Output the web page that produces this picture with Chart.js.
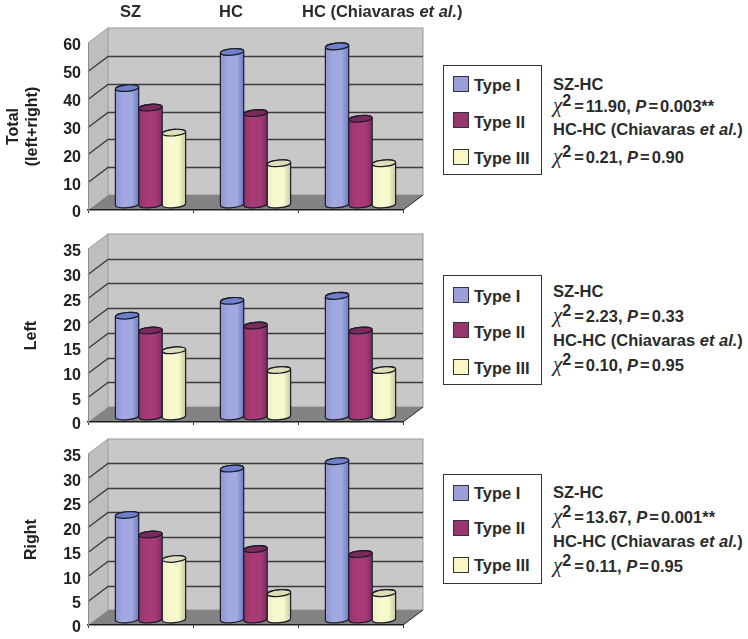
<!DOCTYPE html>
<html>
<head>
<meta charset="utf-8">
<script src="https://cdn.jsdelivr.net/npm/chart.js@4/dist/chart.umd.min.js"></script>
<style>
  html, body { margin: 0; padding: 0; background: #fff; }
  #page { position: relative; width: 748px; height: 639px; overflow: hidden;
          font-family: "Liberation Sans", Arial, sans-serif; font-weight: bold; color: #2b2b2b; }
  canvas { position: absolute; left: 0; }
  .txt { position: absolute; white-space: nowrap; line-height: 18px; height: 18px; }
  .header { font-size: 16.5px; }
  .stat { font-size: 16.5px; left: 553px; }
  .stat i.chi { font-family: "Liberation Serif", serif; font-size: 21px; font-weight: normal; }
  .stat sup { font-size: 16px; line-height: 0; vertical-align: 6px; margin-right: 1px; }
  .eq { margin: 0 2px; }
  .legend-box { position: absolute; left: 443px; width: 97px; border: 1px solid #333; background: #fff; box-sizing: content-box; }
  .swatch { position: absolute; left: 453px; width: 14px; height: 14px; border: 1.5px solid #333; }
  .legend-label { font-size: 16.5px; left: 474px; }
</style>
</head>
<body>
<div id="page"></div>
<script>
// categories and legend
const categories = ["SZ", "HC", "HC (Chiavaras et al.)"];
const typeNames = ["Type I", "Type II", "Type III"];

// values per panel
const totalTypeI = [42, 55, 57];
const totalTypeII = [35, 33, 31];
const totalTypeIII = [26, 15, 15];

const leftTypeI = [20.5, 23.5, 24.5];
const leftTypeII = [17.5, 18.5, 17.5];
const leftTypeIII = [13.5, 9.5, 9.5];

const rightTypeI = [21.5, 31, 32.5];
const rightTypeII = [17.5, 14.5, 13.5];
const rightTypeIII = [12.5, 5.5, 5.5];

// chi square text per panel
const szChi = ["11.90", "2.23", "13.67"];
const szP = ["0.003**", "0.33", "0.001**"];
const hcChi = ["0.21", "0.10", "0.11"];
const hcP = ["0.90", "0.95", "0.95"];

const page = document.getElementById("page");
const DEPTH_X = 20, DEPTH_Y = 15;
const BAR_DX = 10, BAR_DY = -5;
const CANVAS_H = 250;

const barColors = [
  { left: "#8e97d2", mid: "#a1a9e0", right: "#6d7cc6", cap: "#6f80cc", swatch: "#9a9fd8" },
  { left: "#93356c", mid: "#a83a78", right: "#7a2f5e", cap: "#7c2a5c", swatch: "#993670" },
  { left: "#f0f0c6", mid: "#f8f8cf", right: "#c9c9a0", cap: "#dedeb8", swatch: "#f9f7c4" }
];

// back wall, side wall and floor, built from the scales so they follow the ticks
const wallsPlugin = {
  id: "walls",
  beforeDraw(chart) {
    const { ctx, chartArea: a, scales: { y } } = chart;
    ctx.save();
    // side wall
    ctx.fillStyle = "#bebebe";
    ctx.beginPath();
    ctx.moveTo(a.left, a.top);
    ctx.lineTo(a.left + DEPTH_X, a.top - DEPTH_Y);
    ctx.lineTo(a.left + DEPTH_X, a.bottom - DEPTH_Y);
    ctx.lineTo(a.left, a.bottom);
    ctx.closePath();
    ctx.fill();
    // back wall
    ctx.fillStyle = "#c8c8c8";
    ctx.fillRect(a.left + DEPTH_X, a.top - DEPTH_Y, a.right - a.left, a.bottom - a.top);
    ctx.strokeStyle = "#9a9a9a";
    ctx.lineWidth = 1;
    ctx.strokeRect(a.left + DEPTH_X, a.top - DEPTH_Y, a.right - a.left, a.bottom - a.top);
    ctx.beginPath();
    ctx.moveTo(a.left, a.top);
    ctx.lineTo(a.left + DEPTH_X, a.top - DEPTH_Y);
    ctx.stroke();
    // floor
    ctx.fillStyle = "#838383";
    ctx.beginPath();
    ctx.moveTo(a.left, a.bottom);
    ctx.lineTo(a.right, a.bottom);
    ctx.lineTo(a.right + DEPTH_X, a.bottom - DEPTH_Y);
    ctx.lineTo(a.left + DEPTH_X, a.bottom - DEPTH_Y);
    ctx.closePath();
    ctx.fill();
    ctx.strokeStyle = "#222";
    ctx.lineWidth = 1;
    ctx.beginPath();
    ctx.moveTo(a.right, a.bottom);
    ctx.lineTo(a.right + DEPTH_X, a.bottom - DEPTH_Y);
    ctx.stroke();
    // gridlines on the walls
    ctx.strokeStyle = "#3c3c3c";
    ctx.lineWidth = 1.3;
    y.ticks.forEach((t) => {
      if (t.value === 0 || t.value === y.max) return;
      const py = Math.round(y.getPixelForValue(t.value)) + 0.5;
      ctx.beginPath();
      ctx.moveTo(a.left, py);
      ctx.lineTo(a.left + DEPTH_X, py - DEPTH_Y);
      ctx.lineTo(a.right + DEPTH_X, py - DEPTH_Y);
      ctx.stroke();
    });
    ctx.restore();
  }
};

function drawCylinder(ctx, bar, colors) {
  const rx = bar.width / 2;
  const ry = 3.2;
  const rot = -0.09;
  const cx = bar.x + BAR_DX;
  const top = bar.y + BAR_DY;
  const base = bar.base + BAR_DY;
  const grad = ctx.createLinearGradient(cx - rx, 0, cx + rx, 0);
  grad.addColorStop(0, colors.left);
  grad.addColorStop(0.35, colors.mid);
  grad.addColorStop(0.7, colors.mid);
  grad.addColorStop(1, colors.right);
  ctx.fillStyle = grad;
  ctx.strokeStyle = "#1c1c2a";
  ctx.lineWidth = 1.2;
  ctx.beginPath();
  ctx.ellipse(cx, base, rx, ry, rot, Math.PI, 0, true);
  ctx.ellipse(cx, top, rx, ry, rot, 0, Math.PI, true);
  ctx.closePath();
  ctx.fill();
  ctx.stroke();
  ctx.fillStyle = colors.cap;
  ctx.beginPath();
  ctx.ellipse(cx, top, rx, ry, rot, 0, Math.PI * 2);
  ctx.fill();
  ctx.stroke();
}

// replaces the flat rectangles with cylinders, using the bar elements' own geometry
const cylinderPlugin = {
  id: "cylinders",
  beforeDatasetsDraw(chart) {
    chart.data.datasets.forEach((ds, i) => {
      chart.getDatasetMeta(i).data.forEach((el) => {
        drawCylinder(chart.ctx, el.getProps(["x", "y", "base", "width"], true), barColors[i]);
      });
    });
    return false;
  }
};

function makePanel(opts) {
  const canvas = document.createElement("canvas");
  canvas.width = 440;
  canvas.height = CANVAS_H;
  canvas.style.top = opts.top + "px";
  canvas.style.width = "440px";
  canvas.style.height = CANVAS_H + "px";
  page.appendChild(canvas);

  const chart = new Chart(canvas.getContext("2d"), {
    type: "bar",
    data: {
      labels: categories,
      datasets: opts.series.map((values, i) => ({ label: typeNames[i], data: values }))
    },
    plugins: [wallsPlugin, cylinderPlugin],
    options: {
      responsive: false,
      animation: false,
      events: [],
      categoryPercentage: 0.67,
      barPercentage: 1,
      layout: { autoPadding: false, padding: { top: opts.areaTop, bottom: 12, left: 0, right: 37 } },
      plugins: { legend: { display: false }, tooltip: { enabled: false } },
      scales: {
        x: {
          afterFit(scale) { scale.height = 4; },
          ticks: { display: false },
          border: { color: "#1f1f1f", width: 1.5 },
          grid: { drawOnChartArea: false, tickLength: 3, color: "#333" }
        },
        y: {
          min: 0,
          max: opts.max,
          afterFit(scale) { scale.width = 88; },
          ticks: {
            stepSize: opts.step,
            padding: 7,
            labelOffset: 3,
            color: "#222",
            font: { family: "'Liberation Sans', Arial, sans-serif", size: 16, weight: "bold" }
          },
          border: { color: "#8c8c8c", width: 1 },
          grid: { drawOnChartArea: false, drawTicks: false },
          title: {
            display: true,
            text: opts.title,
            color: "#222",
            padding: { top: opts.titlePad, bottom: 0 },
            font: { family: "'Liberation Sans', Arial, sans-serif", size: 16, weight: "bold", lineHeight: 1.2 }
          }
        }
      }
    }
  });
  // the layout keeps some extra room below the axis, so nudge the padding until the floor lands where it should
  for (let pass = 0; pass < 2; pass++) {
    chart.options.layout.padding.bottom += chart.chartArea.bottom - opts.areaBottom;
    chart.update();
  }
  return chart;
}

makePanel({ top: 0, areaTop: 43, areaBottom: 210, max: 60, step: 10,
  title: ["Total", "(left+right)"], titlePad: 4,
  series: [totalTypeI, totalTypeII, totalTypeIII] });
makePanel({ top: 225, areaTop: 24, areaBottom: 197, max: 35, step: 5,
  title: "Left", titlePad: 22,
  series: [leftTypeI, leftTypeII, leftTypeIII] });
makePanel({ top: 430, areaTop: 24, areaBottom: 195, max: 35, step: 5,
  title: "Right", titlePad: 22,
  series: [rightTypeI, rightTypeII, rightTypeIII] });

function addText(cls, left, centerY, html) {
  const el = document.createElement("div");
  el.className = "txt " + cls;
  if (left !== null) el.style.left = left + "px";
  el.style.top = (centerY - 9) + "px";
  el.innerHTML = html;
  page.appendChild(el);
}

// column headers
const headerX = [120, 219, 302];
categories.forEach((name, i) => {
  addText("header", headerX[i], 11, name.replace("et al.", "<i>et al.</i>"));
});

// legend and statistics blocks
const blocks = [
  { boxTop: 65, boxH: 108, swatch: [84, 120, 156.5], label: [85, 122, 158], stat: [84, 105, 129, 156] },
  { boxTop: 275, boxH: 108, swatch: [295, 330, 367], label: [296, 332, 368], stat: [290.5, 315, 340, 364] },
  { boxTop: 474, boxH: 108, swatch: [492.5, 527.5, 565], label: [493, 528, 565], stat: [491.5, 516, 541, 565] }
];

function chiLine(chi, p) {
  return '<i class="chi">&chi;</i><sup>2</sup><span class="eq">=</span>' + chi +
    ', <i>P</i><span class="eq">=</span>' + p;
}

blocks.forEach((b, k) => {
  const box = document.createElement("div");
  box.className = "legend-box";
  box.style.top = b.boxTop + "px";
  box.style.height = b.boxH + "px";
  page.appendChild(box);
  typeNames.forEach((name, i) => {
    const sw = document.createElement("div");
    sw.className = "swatch";
    sw.style.top = (b.swatch[i] - 8) + "px";
    sw.style.background = barColors[i].swatch;
    page.appendChild(sw);
    addText("legend-label", null, b.label[i], name);
  });
  addText("stat", null, b.stat[0], "SZ-HC");
  addText("stat", null, b.stat[1], chiLine(szChi[k], szP[k]));
  addText("stat", null, b.stat[2], "HC-HC (Chiavaras <i>et al.</i>)");
  addText("stat", null, b.stat[3], chiLine(hcChi[k], hcP[k]));
});
</script>
</body>
</html>
